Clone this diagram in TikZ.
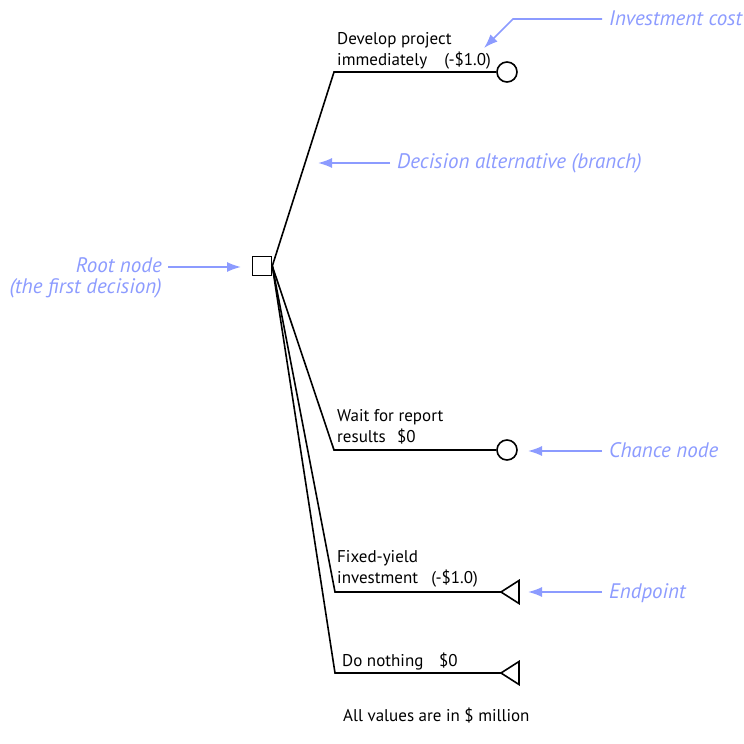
\documentclass[tikz,border=0pt]{standalone}
\usepackage{fontspec}
\setmainfont{PT Sans}
\usetikzlibrary{arrows.meta}
\definecolor{annot}{RGB}{140,155,255}
\tikzset{
  lbl/.style={font=\fontsize{17}{19}\selectfont, inner sep=0pt, text=black},
  ann/.style={font=\fontsize{21}{24}\selectfont\itshape, inner sep=0pt, text=annot},
  branch/.style={draw=black, line width=1.6pt, line join=miter},
  annarrow/.style={draw=annot, line width=1.6pt, -{Latex[length=14pt,width=10pt]}},
  chance/.style={draw=black, line width=1.6pt, circle, minimum size=20pt, inner sep=0pt, fill=white},
  decision/.style={draw=black, line width=1.6pt, rectangle, minimum size=19pt, inner sep=0pt}
}
\begin{document}
\begin{tikzpicture}[x=1pt,y=-1pt]
\useasboundingbox (0,0) rectangle (744,744);
% root
\node[decision] (root) at (262,266) {};
% corner coordinates
\coordinate (k1) at (334,72);
\coordinate (k2) at (334,450);
\coordinate (k3) at (335,592);
\coordinate (k4) at (335,673);
\node[chance] (c1) at (507,72) {};
\node[chance] (c2) at (507,450) {};
\coordinate (t3) at (501,592);
\coordinate (t4) at (501,673);
% branches
\draw[branch] (root.east) -- (k1) -- (c1.west);
\draw[branch] (root.east) -- (k2) -- (c2.west);
\draw[branch] (root.east) -- (k3) -- (t3);
\draw[branch] (root.east) -- (k4) -- (t4);
\draw[branch] (t3) -- ++(18,-11.5) -- ++(0,23) -- cycle;
\draw[branch] (t4) -- ++(18,-11.5) -- ++(0,23) -- cycle;
% branch labels
\node[lbl, anchor=base west] (l1a) at (337,44) {Develop project};
\node[lbl, anchor=base west] (l1b) at (337,65) {immediately};
\node[lbl, anchor=base east] (l1c) at (491,65) {(-\$1.0)};
\node[lbl, anchor=base west] (l2a) at (337,421) {Wait for report};
\node[lbl, anchor=base west] (l2b) at (337,442) {results};
\node[lbl, anchor=base west] (l2c) at (397,442) {\$0};
\node[lbl, anchor=base west] (l3a) at (337,562) {Fixed-yield};
\node[lbl, anchor=base west] (l3b) at (337,583) {investment};
\node[lbl, anchor=base east] (l3c) at (478,583) {(-\$1.0)};
\node[lbl, anchor=base west] (l4a) at (342,666) {Do nothing};
\node[lbl, anchor=base west] (l4b) at (439,666) {\$0};
\node[lbl, anchor=base west] (note) at (343,721) {All values are in \$ million};
% annotations
\node[ann, anchor=base west] (a1) at (609,25) {Investment cost};
\coordinate (a1s) at (602,19);
\coordinate (a1k) at (513,19);
\coordinate (a1t) at (484,48);
\draw[annarrow] (a1s) -- (a1k) -- (a1t);
\node[ann, anchor=base west] (a2) at (397,168) {Decision alternative (branch)};
\coordinate (a2s) at (390,163);
\coordinate (a2t) at (318,163);
\draw[annarrow] (a2s) -- (a2t);
\node[ann, anchor=base east] (a3) at (162,272) {Root node};
\node[ann, anchor=base east] (a3b) at (162,293) {(the first decision)};
\coordinate (a3s) at (168,267);
\coordinate (a3t) at (241,267);
\draw[annarrow] (a3s) -- (a3t);
\node[ann, anchor=base west] (a4) at (609,457) {Chance node};
\coordinate (a4s) at (602,451);
\coordinate (a4t) at (528,451);
\draw[annarrow] (a4s) -- (a4t);
\node[ann, anchor=base west] (a5) at (609,598) {Endpoint};
\coordinate (a5s) at (602,592);
\coordinate (a5t) at (528,592);
\draw[annarrow] (a5s) -- (a5t);
\end{tikzpicture}
\end{document}
